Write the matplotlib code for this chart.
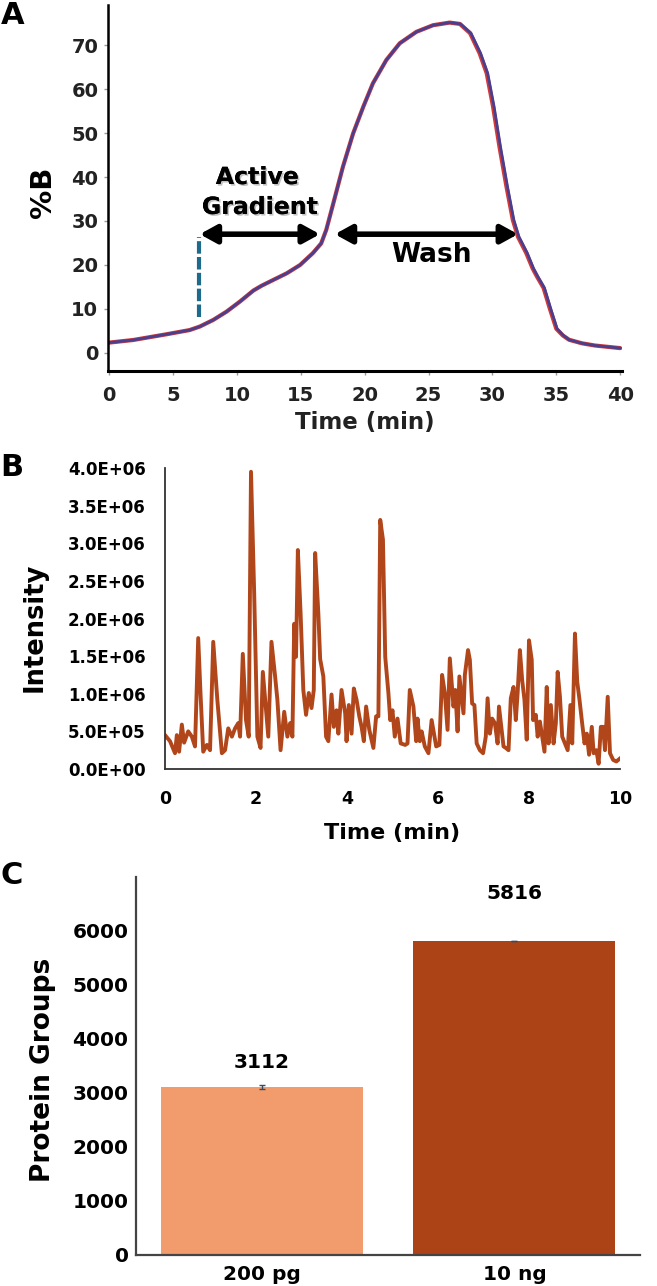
import numpy as np
import matplotlib
matplotlib.use("Agg")
import matplotlib.pyplot as plt
import matplotlib.patheffects as pe
from matplotlib.ticker import FuncFormatter

plt.rcParams['font.family'] = ['DejaVu Sans']
plt.rcParams['font.weight'] = 'bold'

# ---- panel A: gradient profile (%B vs time) ----
grad_time_red = [0, 1.9, 4.5, 6.3, 7.1, 8.15, 9.2, 10.25, 11.3, 11.95, 12.85,
                 13.9, 14.95, 15.95, 16.6, 17.0, 17.55, 18.3, 19.1, 19.9, 20.65,
                 21.7, 22.75, 24.05, 25.35, 26.65, 27.45, 28.25, 29.0, 29.55,
                 30.05, 30.55, 31.1, 31.6, 32.0, 32.65, 33.15, 33.5, 34.0, 34.5,
                 35.0, 35.5, 36.0, 37, 38, 39, 40]
grad_time_blue = [0, 1.9, 4.5, 6.3, 7.1, 8.15, 9.2, 10.25, 11.3, 11.95, 12.85,
                  13.9, 14.95, 15.95, 16.6, 17.0, 17.55, 18.3, 19.1, 19.9, 20.65,
                  21.7, 22.75, 24.05, 25.35, 26.65, 27.5, 28.32, 29.08, 29.63,
                  30.13, 30.63, 31.18, 31.68, 32.08, 32.73, 33.22, 33.57, 34.07,
                  34.57, 35.06, 35.55, 36.0, 37, 38, 39, 40]
grad_pct = [2.35, 2.95, 4.25, 5.2, 6.0, 7.5, 9.4, 11.7, 14.2, 15.3, 16.6, 18.1,
            20.0, 22.7, 24.9, 28.0, 34.0, 42.3, 49.9, 56.0, 61.3, 66.6, 70.4,
            73.0, 74.5, 75.1, 74.8, 72.7, 68.1, 63.6, 56.0, 46.9, 37.8, 30.2,
            26.4, 22.7, 19.2, 17.3, 14.8, 10.0, 5.5, 4.0, 3.0, 2.2, 1.7, 1.4, 1.1]

# ---- panel B: chromatogram ----
chrom_time = [0.00, 0.11, 0.22, 0.26, 0.31, 0.37, 0.42, 0.51, 0.59, 0.66, 0.73,
              0.78, 0.84, 0.92, 0.99, 1.06, 1.15, 1.25, 1.32, 1.39, 1.47, 1.54,
              1.61, 1.65, 1.71, 1.78, 1.84, 1.89, 1.96, 2.03, 2.10, 2.15, 2.22,
              2.27, 2.34, 2.42, 2.47, 2.54, 2.62, 2.69, 2.75, 2.80, 2.84, 2.88,
              2.92, 2.98, 3.04, 3.10, 3.16, 3.22, 3.27, 3.30, 3.37, 3.41, 3.48,
              3.54, 3.59, 3.66, 3.71, 3.77, 3.81, 3.88, 3.96, 3.99, 4.04, 4.10,
              4.15, 4.21, 4.27, 4.32, 4.37, 4.42, 4.49, 4.58, 4.64, 4.69, 4.73,
              4.79, 4.84, 4.91, 4.95, 5.00, 5.05, 5.11, 5.18, 5.28, 5.33, 5.38,
              5.46, 5.52, 5.55, 5.60, 5.64, 5.71, 5.79, 5.86, 5.96, 6.03, 6.09,
              6.15, 6.21, 6.26, 6.34, 6.38, 6.43, 6.47, 6.56, 6.59, 6.66, 6.70,
              6.75, 6.80, 6.85, 6.92, 6.99, 7.05, 7.09, 7.14, 7.19, 7.25, 7.31,
              7.34, 7.39, 7.44, 7.49, 7.55, 7.60, 7.66, 7.71, 7.75, 7.80, 7.85,
              7.90, 7.95, 8.00, 8.06, 8.09, 8.15, 8.19, 8.24, 8.29, 8.34, 8.39,
              8.43, 8.48, 8.54, 8.59, 8.63, 8.68, 8.73, 8.79, 8.85, 8.91, 8.95,
              9.01, 9.06, 9.11, 9.16, 9.22, 9.27, 9.32, 9.38, 9.42, 9.48, 9.53,
              9.58, 9.63, 9.67, 9.73, 9.78, 9.85, 9.92, 10.0]
chrom_int = [0.45, 0.37, 0.21, 0.45, 0.23, 0.59, 0.35, 0.50, 0.43, 0.30, 1.74,
             1.01, 0.23, 0.32, 0.25, 1.69, 0.92, 0.21, 0.25, 0.54, 0.43, 0.54,
             0.61, 0.43, 1.53, 0.65, 0.43, 3.95, 2.34, 0.43, 0.28, 1.29, 0.78,
             0.43, 1.69, 1.23, 0.92, 0.25, 0.76, 0.43, 0.61, 0.43, 1.93, 1.49,
             2.91, 2.07, 1.05, 0.72, 1.01, 0.81, 1.05, 2.87, 2.07, 1.46, 1.23,
             0.43, 0.37, 0.99, 0.56, 0.78, 0.47, 1.05, 0.74, 0.37, 0.85, 0.47,
             1.07, 0.92, 0.70, 0.56, 0.37, 0.83, 0.52, 0.28, 0.70, 0.70, 3.31,
             3.05, 1.49, 1.01, 0.65, 0.78, 0.43, 0.67, 0.34, 0.32, 0.34, 1.05,
             0.83, 0.37, 0.67, 0.37, 0.50, 0.30, 0.21, 0.65, 0.30, 0.32, 1.25,
             1.01, 0.52, 1.47, 0.83, 1.05, 0.50, 1.23, 0.74, 1.25, 1.58, 1.45,
             0.87, 0.85, 0.34, 0.25, 0.21, 0.43, 0.94, 0.47, 0.67, 0.61, 0.34,
             0.83, 0.56, 0.30, 0.28, 0.25, 0.94, 1.09, 0.65, 1.01, 1.58, 1.18,
             0.92, 0.39, 1.71, 1.45, 0.65, 0.72, 0.43, 0.63, 0.43, 0.23, 1.09,
             0.34, 0.85, 0.34, 0.61, 1.29, 0.96, 0.43, 0.34, 0.25, 0.85, 0.34,
             1.80, 1.16, 0.92, 0.65, 0.34, 0.47, 0.19, 0.56, 0.21, 0.25, 0.07,
             0.56, 0.56, 0.25, 0.96, 0.21, 0.12, 0.10, 0.14]
chrom_int = [v * 1e6 for v in chrom_int]

# ---- panel C: protein groups ----
samples = ['200 pg', '10 ng']
groups = [3112, 5816]
groups_err = [45, 8]
label_offset = [450, 870]

fig = plt.figure(figsize=(6.57, 12.86), dpi=100)
W, H = 657, 1286


def box(l, b, r, t):
    return [l / W, 1 - b / H, (r - l) / W, (b - t) / H]


# ================= A =================
axA = fig.add_axes(box(108, 371, 621.5, 5))
axA.plot(grad_time_red, grad_pct, color='#d23a3a', lw=3.0,
         solid_capstyle='round', solid_joinstyle='round')
axA.plot(grad_time_blue, grad_pct, color='#4a3f8e', lw=2.0,
         solid_capstyle='round', solid_joinstyle='round')
axA.set_xlim(-0.08, 40.1)
axA.set_ylim(-4.1, 79.1)
axA.set_xticks(range(0, 41, 5))
axA.set_yticks(range(0, 71, 10))
for s in ['top', 'right']:
    axA.spines[s].set_visible(False)
axA.spines['left'].set_linewidth(1.8)
axA.spines['bottom'].set_linewidth(2.2)
axA.tick_params(axis='both', length=3, width=1, color='#999999',
                labelsize=14, labelcolor='#222222')
axA.tick_params(axis='x', pad=8)
axA.tick_params(axis='y', pad=4)
for lab in axA.get_xticklabels() + axA.get_yticklabels():
    lab.set_fontweight('bold')

axA.plot([7.06, 7.06], [8.2, 26.4], color='#1d6a8a', lw=3,
         linestyle=(0, (3, 0.8)))
arrow_kw = dict(arrowstyle='<|-|>,head_length=1.0,head_width=0.55',
                color='black', lw=4, shrinkA=0, shrinkB=0)
axA.annotate('', xy=(16.5, 27.0), xytext=(7.1, 27.0), arrowprops=arrow_kw)
axA.annotate('', xy=(32.0, 27.0), xytext=(17.67, 27.0), arrowprops=arrow_kw)
shadow = [pe.withSimplePatchShadow(offset=(1.2, -1.2), shadow_rgbFace='#888888',
                                   alpha=0.5), pe.Normal()]
axA.text(11.6, 40.0, 'Active', ha='center', va='center', fontsize=17,
         fontweight='bold', path_effects=shadow)
axA.text(11.8, 33.2, 'Gradient', ha='center', va='center', fontsize=17,
         fontweight='bold', path_effects=shadow)
axA.text(25.2, 22.2, 'Wash', ha='center', va='center', fontsize=19,
         fontweight='bold')
axA.text(-0.1265, 0.489, '%B', transform=axA.transAxes, rotation=90,
         ha='center', va='center', fontsize=21, fontweight='bold')
axA.text(0.5, -0.142, 'Time (min)', transform=axA.transAxes,
         ha='center', va='center', fontsize=16.5, fontweight='bold',
         color='#222222')

# ================= B =================
axB = fig.add_axes(box(165, 769, 620, 468))
axB.plot(chrom_time, chrom_int, color='#b0461a', lw=2.8, solid_joinstyle='round')
axB.set_xlim(0, 10)
axB.set_ylim(0, 4.0e6)
axB.set_xticks(range(0, 11, 2))
axB.set_yticks(np.arange(0, 4.01e6, 5e5))
axB.yaxis.set_major_formatter(FuncFormatter(lambda v, p: '{:.1E}'.format(v)))
for s in ['top', 'right']:
    axB.spines[s].set_visible(False)
for s in ['left', 'bottom']:
    axB.spines[s].set_linewidth(1.3)
    axB.spines[s].set_color('#333333')
axB.tick_params(axis='both', length=0, labelsize=12)
axB.tick_params(axis='y', pad=14)
axB.tick_params(axis='x', pad=15, labelsize=12.5)
for lab in axB.get_xticklabels() + axB.get_yticklabels():
    lab.set_fontweight('bold')
axB.text(-0.286, 0.472, 'Intensity', transform=axB.transAxes, rotation=90,
         ha='center', va='center', fontsize=18.5, fontweight='bold')
axB.text(0.5, -0.213, 'Time (min)', transform=axB.transAxes,
         ha='center', va='center', fontsize=16, fontweight='bold')

# ================= C =================
axC = fig.add_axes(box(135.5, 1255, 639.5, 877))
x = np.arange(len(samples))
axC.bar(x, groups, width=0.8, color=['#f29b6d', '#ab4317'])
axC.errorbar(x, groups, yerr=groups_err, fmt='none', ecolor='#3b4a5e',
             elinewidth=1, capsize=2, capthick=1)
for xi, g, off in zip(x, groups, label_offset):
    axC.text(xi, g + off, str(g), ha='center', va='center', fontsize=14.5,
             fontweight='bold')
axC.set_xlim(-0.502, 1.496)
axC.set_ylim(0, 7000)
axC.set_yticks(range(0, 6001, 1000))
axC.set_xticks(x)
axC.set_xticklabels(samples)
for s in ['top', 'right']:
    axC.spines[s].set_visible(False)
for s in ['left', 'bottom']:
    axC.spines[s].set_linewidth(1.6)
    axC.spines[s].set_color('#444444')
axC.tick_params(axis='both', length=0, labelsize=14.5)
axC.tick_params(axis='y', pad=5)
axC.tick_params(axis='x', pad=7)
for lab in axC.get_xticklabels() + axC.get_yticklabels():
    lab.set_fontweight('bold')
axC.text(-0.184, 0.489, 'Protein Groups', transform=axC.transAxes, rotation=90,
         ha='center', va='center', fontsize=19, fontweight='bold')

# panel letters
fig.text(13 / W, 1 - 15 / H, 'A', ha='center', va='center', fontsize=22,
         fontweight='bold')
fig.text(12 / W, 1 - 467 / H, 'B', ha='center', va='center', fontsize=22,
         fontweight='bold')
fig.text(12 / W, 1 - 875 / H, 'C', ha='center', va='center', fontsize=22,
         fontweight='bold')

fig.savefig('out.png', dpi=100)
